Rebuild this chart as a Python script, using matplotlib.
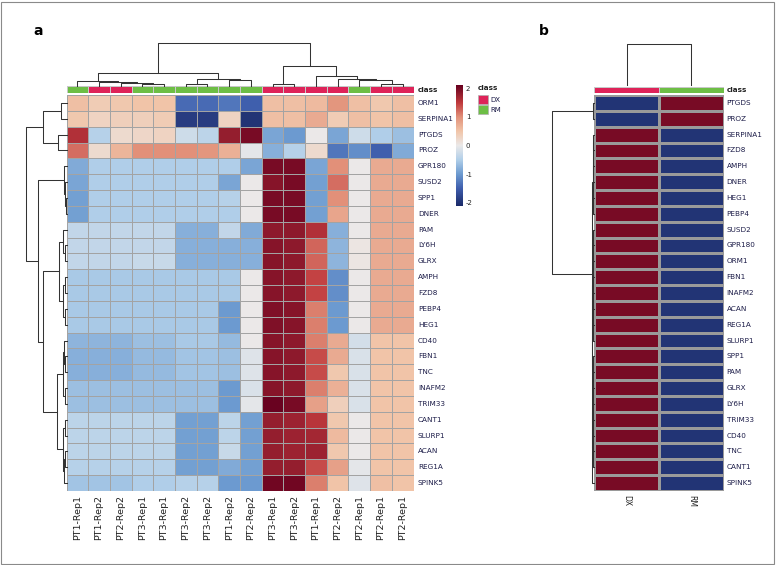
"""
Clustered expression heatmaps (panel a: samples, panel b: class means)
"""

import matplotlib

matplotlib.use("Agg")

import matplotlib.pyplot as plt
import numpy as np
from matplotlib.colors import LinearSegmentedColormap, ListedColormap, Normalize
from matplotlib.patches import Rectangle

plt.rcParams["axes.unicode_minus"] = False

W, H = 776, 565

# ---- panel a data ----
samples_a = ["PT1-Rep1", "PT1-Rep2", "PT2-Rep2", "PT3-Rep1", "PT3-Rep1", "PT3-Rep2",
             "PT3-Rep2", "PT1-Rep2", "PT2-Rep2", "PT3-Rep1", "PT3-Rep2", "PT1-Rep1",
             "PT2-Rep2", "PT2-Rep1", "PT2-Rep1", "PT2-Rep1"]
class_a = ["RM", "DX", "DX", "RM", "RM", "RM", "RM", "RM", "RM",
           "DX", "DX", "DX", "DX", "RM", "DX", "DX"]
genes_a = ["ORM1", "SERPINA1", "PTGDS", "PROZ", "GPR180", "SUSD2", "SPP1", "DNER",
           "PAM", "LY6H", "GLRX", "AMPH", "FZD8", "PEBP4", "HEG1", "CD40", "FBN1",
           "TNC", "INAFM2", "TRIM33", "CANT1", "SLURP1", "ACAN", "REG1A", "SPINK5"]
expr_a = [
    [0.55, 0.4, 0.45, 0.5, 0.5, -1.4, -1.4, -1.3, -1.5, 0.55, 0.55, 0.6, 0.95, 0.55, 0.45, 0.55],
    [0.45, 0.3, 0.35, 0.35, 0.4, -1.9, -1.9, 0.3, -2.0, 0.55, 0.55, 0.75, 0.4, 0.55, 0.5, 0.55],
    [1.6, -0.45, 0.2, 0.25, 0.3, -0.25, -0.4, 1.8, 2.0, -0.9, -1.0, 0.0, -0.9, -0.25, -0.5, -0.65],
    [1.2, 0.2, 0.65, 1.0, 1.0, 1.0, 0.95, 0.7, -0.05, -0.8, -0.45, 0.2, -1.3, -1.1, -1.5, -0.85],
    [-0.85, -0.5, -0.5, -0.5, -0.5, -0.5, -0.5, -0.5, -0.9, 2.0, 2.0, -0.9, 1.0, 0.0, 0.75, 0.75],
    [-0.9, -0.5, -0.5, -0.5, -0.5, -0.5, -0.5, -0.9, 0.0, 1.9, 2.0, -0.95, 1.2, 0.0, 0.75, 0.75],
    [-0.95, -0.5, -0.5, -0.5, -0.5, -0.5, -0.5, -0.45, 0.0, 2.0, 2.0, -0.95, 1.0, 0.0, 0.75, 0.75],
    [-0.95, -0.5, -0.5, -0.5, -0.5, -0.5, -0.5, -0.5, 0.0, 2.0, 2.0, -0.95, 0.8, 0.0, 0.75, 0.75],
    [-0.35, -0.35, -0.35, -0.35, -0.35, -0.8, -0.8, -0.35, -0.85, 1.85, 1.85, 1.6, -0.8, 0.0, 0.75, 0.75],
    [-0.35, -0.35, -0.35, -0.35, -0.35, -0.8, -0.8, -0.8, -0.8, 1.9, 1.85, 1.25, -0.75, 0.05, 0.75, 0.75],
    [-0.35, -0.35, -0.35, -0.3, -0.3, -0.8, -0.8, -0.8, -0.8, 1.9, 1.85, 1.25, -0.75, 0.05, 0.75, 0.75],
    [-0.55, -0.55, -0.55, -0.55, -0.55, -0.55, -0.55, -0.55, 0.0, 1.9, 1.85, 1.45, -1.1, 0.0, 0.75, 0.75],
    [-0.55, -0.55, -0.55, -0.55, -0.55, -0.55, -0.55, -0.55, 0.0, 1.9, 1.85, 1.45, -1.1, 0.0, 0.75, 0.75],
    [-0.55, -0.55, -0.55, -0.55, -0.55, -0.55, -0.55, -1.0, 0.0, 1.95, 1.9, 1.1, -1.0, 0.0, 0.75, 0.75],
    [-0.55, -0.55, -0.55, -0.55, -0.55, -0.55, -0.55, -1.0, 0.0, 1.95, 1.9, 1.1, -1.0, 0.0, 0.75, 0.75],
    [-0.75, -0.75, -0.75, -0.65, -0.65, -0.55, -0.55, -0.7, 0.0, 1.9, 1.85, 1.1, 0.75, -0.2, 0.5, 0.5],
    [-0.8, -0.8, -0.8, -0.7, -0.7, -0.6, -0.6, -0.65, -0.1, 1.9, 1.85, 1.4, 0.75, -0.15, 0.5, 0.5],
    [-0.8, -0.8, -0.8, -0.7, -0.7, -0.6, -0.6, -0.65, -0.1, 1.9, 1.85, 1.4, 0.45, -0.15, 0.5, 0.5],
    [-0.65, -0.65, -0.65, -0.65, -0.65, -0.65, -0.65, -1.0, -0.15, 1.9, 1.85, 1.1, 0.7, -0.15, 0.5, 0.5],
    [-0.65, -0.65, -0.65, -0.65, -0.65, -0.65, -0.65, -1.0, -0.05, 2.1, 2.0, 0.85, 0.35, -0.15, 0.5, 0.5],
    [-0.4, -0.4, -0.4, -0.4, -0.4, -0.95, -0.95, -0.4, -0.95, 1.8, 1.75, 1.55, 0.45, 0.0, 0.5, 0.5],
    [-0.4, -0.4, -0.4, -0.4, -0.4, -0.95, -0.95, -0.4, -0.95, 1.8, 1.75, 1.7, 0.6, 0.0, 0.5, 0.5],
    [-0.4, -0.4, -0.4, -0.4, -0.4, -0.95, -0.95, -0.3, -0.95, 1.8, 1.75, 1.75, 0.45, 0.0, 0.5, 0.5],
    [-0.45, -0.45, -0.45, -0.45, -0.45, -0.95, -0.95, -0.85, -0.95, 1.8, 1.8, 1.4, 0.85, -0.05, 0.5, 0.5],
    [-0.6, -0.6, -0.6, -0.5, -0.5, -0.45, -0.45, -1.0, -1.0, 2.05, 2.05, 1.1, 0.5, -0.1, 0.55, 0.5],
]

# dendrogram merges: (child, child, height); leaves 0..n-1, new nodes n, n+1, ...
col_merges_a = [
    (3, 4, 6), (2, 16, 9), (1, 17, 12), (0, 18, 15),
    (5, 6, 7), (7, 8, 18), (20, 21, 22), (19, 22, 40),
    (9, 10, 7), (14, 15, 7), (13, 25, 18), (12, 26, 22), (11, 27, 32),
    (24, 28, 62), (23, 29, 130),
]
row_merges_a = [
    (0, 1, 17), (2, 3, 25), (25, 26, 70),
    (6, 7, 3), (5, 28, 5), (4, 29, 8),
    (9, 10, 4), (8, 31, 10), (11, 12, 4), (13, 14, 4), (33, 34, 12), (32, 35, 22),
    (16, 17, 4), (15, 37, 7), (18, 19, 5), (38, 39, 10),
    (20, 21, 4), (22, 23, 4), (42, 24, 7), (41, 43, 10), (40, 44, 28),
    (36, 45, 70), (30, 46, 85), (27, 47, 122),
]

# ---- panel b data ----
class_b = ["DX", "RM"]
genes_b = ["PTGDS", "PROZ", "SERPINA1", "FZD8", "AMPH", "DNER", "HEG1", "PEBP4",
           "SUSD2", "GPR180", "ORM1", "FBN1", "INAFM2", "ACAN", "REG1A", "SLURP1",
           "SPP1", "PAM", "GLRX", "LY6H", "TRIM33", "CD40", "TNC", "CANT1", "SPINK5"]
dx_b = [-2, -2, 2, 2, 2, 2, 2, 2, 2, 2, 2, 2, 2, 2, 2, 2, 2, 2, 2, 2, 2, 2, 2, 2, 2]
rm_b = [2, 2, -2, -2, -2, -2, -2, -2, -2, -2, -2, -2, -2, -2, -2, -2, -2, -2, -2, -2,
        -2, -2, -2, -2, -2]
col_merges_b = [(0, 1, 41)]
row_merges_b = [
    (0, 1, 0.6), (2, 3, 0.3), (4, 5, 0.3), (6, 7, 0.3), (26, 27, 0.6), (29, 28, 0.9),
    (8, 9, 0.3), (10, 11, 0.3), (12, 13, 0.3), (14, 15, 0.3), (16, 17, 0.3),
    (18, 19, 0.3), (20, 21, 0.3), (22, 23, 0.3), (31, 32, 0.6), (33, 34, 0.6),
    (35, 36, 0.6), (37, 38, 0.6), (39, 40, 0.9), (41, 42, 0.9), (44, 24, 1.2),
    (43, 45, 1.5), (30, 46, 1.8), (25, 47, 42),
]

class_colors = {"DX": "#DE2359", "RM": "#6DBE45"}
label_color = "#1c1c48"
grid_color = "#a3a3a3"
vlim = 2.12
key_values = [-vlim, -1.5, -1.0, -0.5, 0.0, 0.5, 1.0, 1.5, vlim]
key_colors = ["#1b2a68", "#3f5fae", "#6d9bd0", "#b1cfe9", "#ebe9e9",
              "#f1c5a9", "#e2917a", "#c03a3d", "#67001f"]
cmap = LinearSegmentedColormap.from_list(
    "key", [((v + vlim) / (2 * vlim), c) for v, c in zip(key_values, key_colors)])
norm = Normalize(vmin=-vlim, vmax=vlim)


def px_axes(fig, x0, y0, x1, y1):
    return fig.add_axes([x0 / W, 1 - y1 / H, (x1 - x0) / W, (y1 - y0) / H])


def dendro_segments(merges, n):
    pos = {i: i + 0.5 for i in range(n)}
    hgt = {i: 0.0 for i in range(n)}
    segs = []
    for k, (a, b, h) in enumerate(merges):
        segs.append(([pos[a], pos[a], pos[b], pos[b]], [hgt[a], h, h, hgt[b]]))
        pos[n + k] = (pos[a] + pos[b]) / 2
        hgt[n + k] = h
    return segs


def draw_top_dendro(ax, merges, n, top):
    for xs, hs in dendro_segments(merges, n):
        ax.plot(xs, hs, color="#333333", lw=0.75, clip_on=False)
    ax.set_xlim(0, n)
    ax.set_ylim(0, top)
    ax.axis("off")


def draw_left_dendro(ax, merges, n, top):
    for ys, hs in dendro_segments(merges, n):
        ax.plot(hs, ys, color="#333333", lw=0.75, clip_on=False)
    ax.set_ylim(n, 0)
    ax.set_xlim(top, 0)
    ax.axis("off")


def draw_cells(ax, values, edge=grid_color, lw=0.7):
    values = np.asarray(values, dtype=float)
    m, n = values.shape
    ax.pcolormesh(np.arange(n + 1), np.arange(m + 1), values, cmap=cmap, norm=norm,
                  edgecolors=edge, linewidth=lw)
    ax.set_xlim(0, n)
    ax.set_ylim(m, 0)
    ax.axis("off")


def draw_class_bar(ax, classes):
    cm = ListedColormap([class_colors["DX"], class_colors["RM"]])
    codes = np.array([[0 if c == "DX" else 1 for c in classes]])
    ax.pcolormesh(np.arange(len(classes) + 1), [0, 1], codes, cmap=cm, vmin=0, vmax=1,
                  edgecolors="#c8c8c8", linewidth=0.4)
    ax.set_xlim(0, len(classes))
    ax.set_ylim(1, 0)
    ax.axis("off")


fig = plt.figure(figsize=(W / 100, H / 100), dpi=100)
fig.patches.append(Rectangle((0.001, 0.002), 0.997, 0.995, transform=fig.transFigure,
                             fill=False, edgecolor="#8a8a8a", lw=0.8))

# ---- panel a ----
hx0, hx1, hy0, hy1 = 66.5, 413.5, 95, 491
ax_hm = px_axes(fig, hx0, hy0, hx1, hy1)
draw_cells(ax_hm, expr_a)
for i, g in enumerate(genes_a):
    ax_hm.text(len(samples_a) + 0.2, i + 0.5, g, fontsize=5.2, color=label_color,
               va="center", ha="left", clip_on=False)
for j, s in enumerate(samples_a):
    ax_hm.text(j + 0.5, len(genes_a) + 0.25, s, fontsize=6.8, color="#222222",
               rotation=90, ha="center", va="top", clip_on=False)

ax_cls = px_axes(fig, hx0, 86, hx1, 93)
draw_class_bar(ax_cls, class_a)
ax_cls.text(len(class_a) + 0.2, 0.5, "class", fontsize=5.2, fontweight="bold",
            color="#222222", va="center", ha="left", clip_on=False)

draw_top_dendro(px_axes(fig, hx0, 43.3, hx1, 86.3), col_merges_a, len(samples_a), 130)
draw_left_dendro(px_axes(fig, 26, hy0, hx0, hy1), row_merges_a, len(genes_a), 122)

# colour key
ax_cb = px_axes(fig, 456, 85, 463, 206)
grad = np.linspace(vlim, -vlim, 256).reshape(-1, 1)
ax_cb.imshow(grad, aspect="auto", cmap=cmap, norm=norm, extent=[0, 1, -vlim, vlim])
ax_cb.set_xticks([])
ax_cb.yaxis.tick_right()
ax_cb.set_yticks([2, 1, 0, -1, -2])
ax_cb.tick_params(axis="y", length=0, labelsize=5, pad=2, labelcolor="#222222")
for sp in ax_cb.spines.values():
    sp.set_visible(False)

# class legend
ax_lg = px_axes(fig, 476, 84, 520, 118)
ax_lg.set_xlim(476, 520)
ax_lg.set_ylim(118, 84)
ax_lg.axis("off")
ax_lg.text(478, 88, "class", fontsize=5.2, fontweight="bold", color="#222222", va="center")
for k, c in enumerate(["DX", "RM"]):
    y0 = 95 + k * 10
    ax_lg.add_patch(Rectangle((478, y0), 9.5, 9.5, facecolor=class_colors[c],
                              edgecolor="#b0b0b0", lw=0.5))
    ax_lg.text(490, y0 + 4.8, c, fontsize=5, color=label_color, va="center")

# ---- panel b ----
bx0, bx1 = 594, 724
ax_hb = px_axes(fig, bx0, hy0, bx1, hy1)
draw_cells(ax_hb, np.column_stack([dx_b, rm_b]), edge="#9a9a9a", lw=0.9)
for i, g in enumerate(genes_b):
    ax_hb.text(2.04, i + 0.5, g, fontsize=5.2, color=label_color, va="center", ha="left",
               clip_on=False)
for j, c in enumerate(class_b):
    ax_hb.text(j + 0.5, len(genes_b) + 0.25, c, fontsize=5.5, color="#222222",
               rotation=-90, ha="center", va="top", clip_on=False)

ax_cb2 = px_axes(fig, bx0, 87, bx1, 93)
draw_class_bar(ax_cb2, class_b)
ax_cb2.text(2.04, 0.5, "class", fontsize=5.2, fontweight="bold", color="#222222",
            va="center", ha="left", clip_on=False)

draw_top_dendro(px_axes(fig, bx0, 44, bx1, 85), col_merges_b, len(class_b), 41)
draw_left_dendro(px_axes(fig, 552, hy0, bx0 - 0.5, hy1), row_merges_b, len(genes_b), 42)

fig.text(33 / W, 1 - 31 / H, "a", fontsize=10, fontweight="bold", va="center")
fig.text(539 / W, 1 - 31 / H, "b", fontsize=10, fontweight="bold", va="center")

fig.savefig("out.png", dpi=100, facecolor="white")
plt.close(fig)
